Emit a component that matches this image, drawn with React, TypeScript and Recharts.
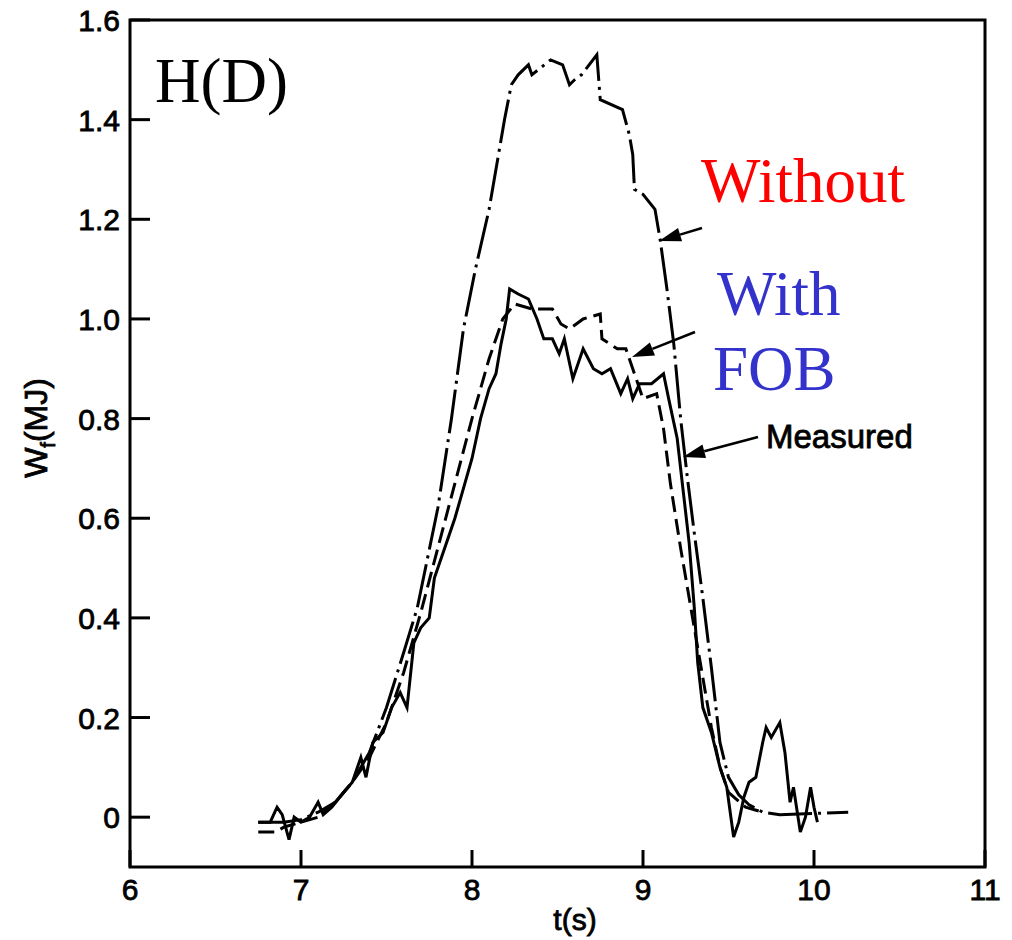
import React from 'react'
import { LineChart, Line, XAxis, YAxis, ReferenceArea } from 'recharts'

// t (s) and W_f (MJ), one pair of arrays per curve
const withoutT = [6.75, 6.9, 7.0, 7.1, 7.2, 7.3, 7.4, 7.5, 7.6, 7.68, 7.74, 7.8, 7.88, 7.95, 8.02, 8.1, 8.19, 8.23, 8.27, 8.33, 8.35, 8.46, 8.53, 8.57, 8.6, 8.64, 8.73, 8.75, 8.88, 8.92, 8.94, 8.95, 9.0, 9.07, 9.1, 9.14, 9.18, 9.22, 9.26, 9.3, 9.35, 9.4, 9.45, 9.5, 9.56, 9.62, 9.7, 9.8, 10.2]
const withoutW = [-0.01, -0.01, -0.005, 0.01, 0.03, 0.07, 0.13, 0.22, 0.33, 0.42, 0.52, 0.62, 0.8, 0.98, 1.1, 1.22, 1.4, 1.47, 1.49, 1.51, 1.49, 1.52, 1.51, 1.47, 1.48, 1.49, 1.53, 1.44, 1.42, 1.37, 1.33, 1.26, 1.25, 1.22, 1.16, 1.06, 0.95, 0.8, 0.68, 0.57, 0.44, 0.3, 0.15, 0.08, 0.045, 0.025, 0.01, 0.005, 0.01]

const fobT = [6.75, 6.85, 6.9, 7.0, 7.1, 7.2, 7.3, 7.4, 7.5, 7.6, 7.7, 7.8, 7.9, 8.0, 8.1, 8.18, 8.25, 8.35, 8.47, 8.52, 8.57, 8.65, 8.75, 8.76, 8.85, 8.9, 8.94, 9.0, 9.08, 9.12, 9.16, 9.22, 9.29, 9.35, 9.4, 9.45, 9.5, 9.6, 9.7]
const fobW = [-0.03, -0.03, -0.02, -0.01, 0.0, 0.03, 0.07, 0.12, 0.19, 0.29, 0.41, 0.54, 0.67, 0.8, 0.92, 1.0, 1.03, 1.02, 1.02, 0.99, 0.98, 1.0, 1.01, 0.96, 0.94, 0.94, 0.9, 0.84, 0.85, 0.78, 0.67, 0.54, 0.4, 0.28, 0.18, 0.1, 0.05, 0.02, 0.01]

const measT = [6.75, 6.82, 6.86, 6.89, 6.93, 6.96, 7.0, 7.05, 7.1, 7.13, 7.18, 7.25, 7.3, 7.35, 7.38, 7.42, 7.48, 7.53, 7.58, 7.62, 7.66, 7.7, 7.75, 7.78, 7.85, 7.9, 7.95, 8.0, 8.05, 8.1, 8.14, 8.17, 8.2, 8.22, 8.27, 8.33, 8.38, 8.42, 8.47, 8.51, 8.54, 8.59, 8.65, 8.71, 8.76, 8.81, 8.87, 8.91, 8.94, 8.98, 9.05, 9.12, 9.15, 9.2, 9.24, 9.27, 9.3, 9.32, 9.35, 9.4, 9.45, 9.49, 9.53, 9.56, 9.59, 9.62, 9.66, 9.7, 9.72, 9.75, 9.8, 9.83, 9.86, 9.88, 9.92, 9.95, 9.98, 10.0, 10.02]
const measW = [-0.01, -0.01, 0.02, 0.005, -0.045, 0.0, -0.01, 0.0, 0.03, 0.005, 0.02, 0.05, 0.07, 0.12, 0.08, 0.15, 0.17, 0.22, 0.25, 0.22, 0.35, 0.38, 0.4, 0.48, 0.55, 0.6, 0.66, 0.72, 0.8, 0.86, 0.89, 0.95, 1.0, 1.06, 1.05, 1.04, 1.0, 0.96, 0.96, 0.93, 0.96, 0.88, 0.94, 0.9, 0.89, 0.9, 0.85, 0.88, 0.84, 0.87, 0.87, 0.89, 0.84, 0.76, 0.64, 0.55, 0.42, 0.31, 0.22, 0.17, 0.1, 0.06, -0.04, -0.01, 0.04, 0.07, 0.08, 0.15, 0.18, 0.16, 0.19, 0.13, 0.03, 0.06, -0.03, 0.0, 0.06, 0.02, -0.01]

const xTicks = [6, 7, 8, 9, 10, 11]
const yTicks = [0, 0.2, 0.4, 0.6, 0.8, 1.0, 1.2, 1.4, 1.6]
const yTickLabels = ['0', '0.2', '0.4', '0.6', '0.8', '1.0', '1.2', '1.4', '1.6']

const toRows = (t: number[], w: number[]) => t.map((v, i) => ({ t: v, w: w[i] }))

const sans = '"Liberation Sans", Arial, sans-serif'
const serif = '"Liberation Serif", "Times New Roman", serif'

function YTick(props: any) {
  const { x, y, payload } = props
  const i = yTicks.indexOf(payload.value)
  return (
    <g>
      <line x1={x + 10} y1={y} x2={x + 30} y2={y} stroke="#000" strokeWidth={3} />
      <text x={x} y={y + 11} textAnchor="end" fontFamily={sans} fontSize={30} fill="#000" stroke="#000" strokeWidth={0.8}>
        {i >= 0 ? yTickLabels[i] : payload.value}
      </text>
    </g>
  )
}

function XTick(props: any) {
  const { x, y, payload } = props
  return (
    <g>
      <line x1={x} y1={y - 10} x2={x} y2={y - 27} stroke="#000" strokeWidth={3} />
      <text x={x} y={y + 23} textAnchor="middle" fontFamily={sans} fontSize={30} fill="#000" stroke="#000" strokeWidth={0.8}>
        {payload.value}
      </text>
    </g>
  )
}

function Arrow({ x1, y1, x2, y2 }: { x1: number; y1: number; x2: number; y2: number }) {
  const a = Math.atan2(y2 - y1, x2 - x1)
  const len = 22
  const w = 7
  const bx = x2 - len * Math.cos(a)
  const by = y2 - len * Math.sin(a)
  const px = -Math.sin(a) * w
  const py = Math.cos(a) * w
  return (
    <g>
      <line x1={x1} y1={y1} x2={bx} y2={by} stroke="#000" strokeWidth={2.5} />
      <polygon points={`${x2},${y2} ${bx + px},${by + py} ${bx - px},${by - py}`} fill="#000" />
    </g>
  )
}

export default function App() {
  return (
    <div style={{ position: 'absolute', left: 0, top: 0, width: 1012, height: 940, background: '#fff' }}>
      <LineChart width={1012} height={940} margin={{ top: 20, right: 27, bottom: 13, left: 70 }}>
        <XAxis
          type="number"
          dataKey="t"
          domain={[6, 11]}
          ticks={xTicks}
          allowDataOverflow
          height={60}
          axisLine={false}
          tickLine={false}
          tickSize={0}
          tickMargin={10}
          tick={<XTick />}
        />
        <YAxis
          type="number"
          domain={[-0.1, 1.6]}
          ticks={yTicks}
          allowDataOverflow
          width={60}
          axisLine={false}
          tickLine={false}
          tickSize={0}
          tickMargin={10}
          tick={<YTick />}
        />
        <ReferenceArea x1={6} x2={11} y1={-0.1} y2={1.6} fill="none" stroke="#000" strokeWidth={3} />
        <Line data={toRows(withoutT, withoutW)} dataKey="w" type="linear" stroke="#000" strokeWidth={3}
          strokeDasharray="44 6 3 6" dot={false} isAnimationActive={false} />
        <Line data={toRows(fobT, fobW)} dataKey="w" type="linear" stroke="#000" strokeWidth={3}
          strokeDasharray="16 7" dot={false} isAnimationActive={false} />
        <Line data={toRows(measT, measW)} dataKey="w" type="linear" stroke="#000" strokeWidth={3}
          dot={false} isAnimationActive={false} />
      </LineChart>

      {/* annotations */}
      <svg width={1012} height={940} style={{ position: 'absolute', left: 0, top: 0, pointerEvents: 'none' }}>
        <text x={155} y={102} fontFamily={serif} fontSize={63} fill="#000">H(D)</text>
        <text x={701} y={202} fontFamily={serif} fontSize={63} fill="#ff0000">Without</text>
        <text x={717} y={315} fontFamily={serif} fontSize={63} fill="#3333cc">With</text>
        <text x={713} y={390} fontFamily={serif} fontSize={63} fill="#3333cc">FOB</text>
        <text x={766} y={448} fontFamily={sans} fontSize={33} fill="#000" stroke="#000" strokeWidth={0.8}>Measured</text>
        <Arrow x1={702} y1={228} x2={659} y2={241} />
        <Arrow x1={695} y1={332} x2={632} y2={357} />
        <Arrow x1={758} y1={437} x2={683} y2={457} />
        <text transform="translate(47,428) rotate(-90)" textAnchor="middle" fontFamily={sans} fontSize={32} fill="#000" stroke="#000" strokeWidth={0.8}>
          W<tspan fontSize={20} dy={8}>f</tspan><tspan dy={-8}>(MJ)</tspan>
        </text>
        <text x={575} y={930} textAnchor="middle" fontFamily={sans} fontSize={30} fill="#000" stroke="#000" strokeWidth={0.8}>t(s)</text>
      </svg>
    </div>
  )
}
